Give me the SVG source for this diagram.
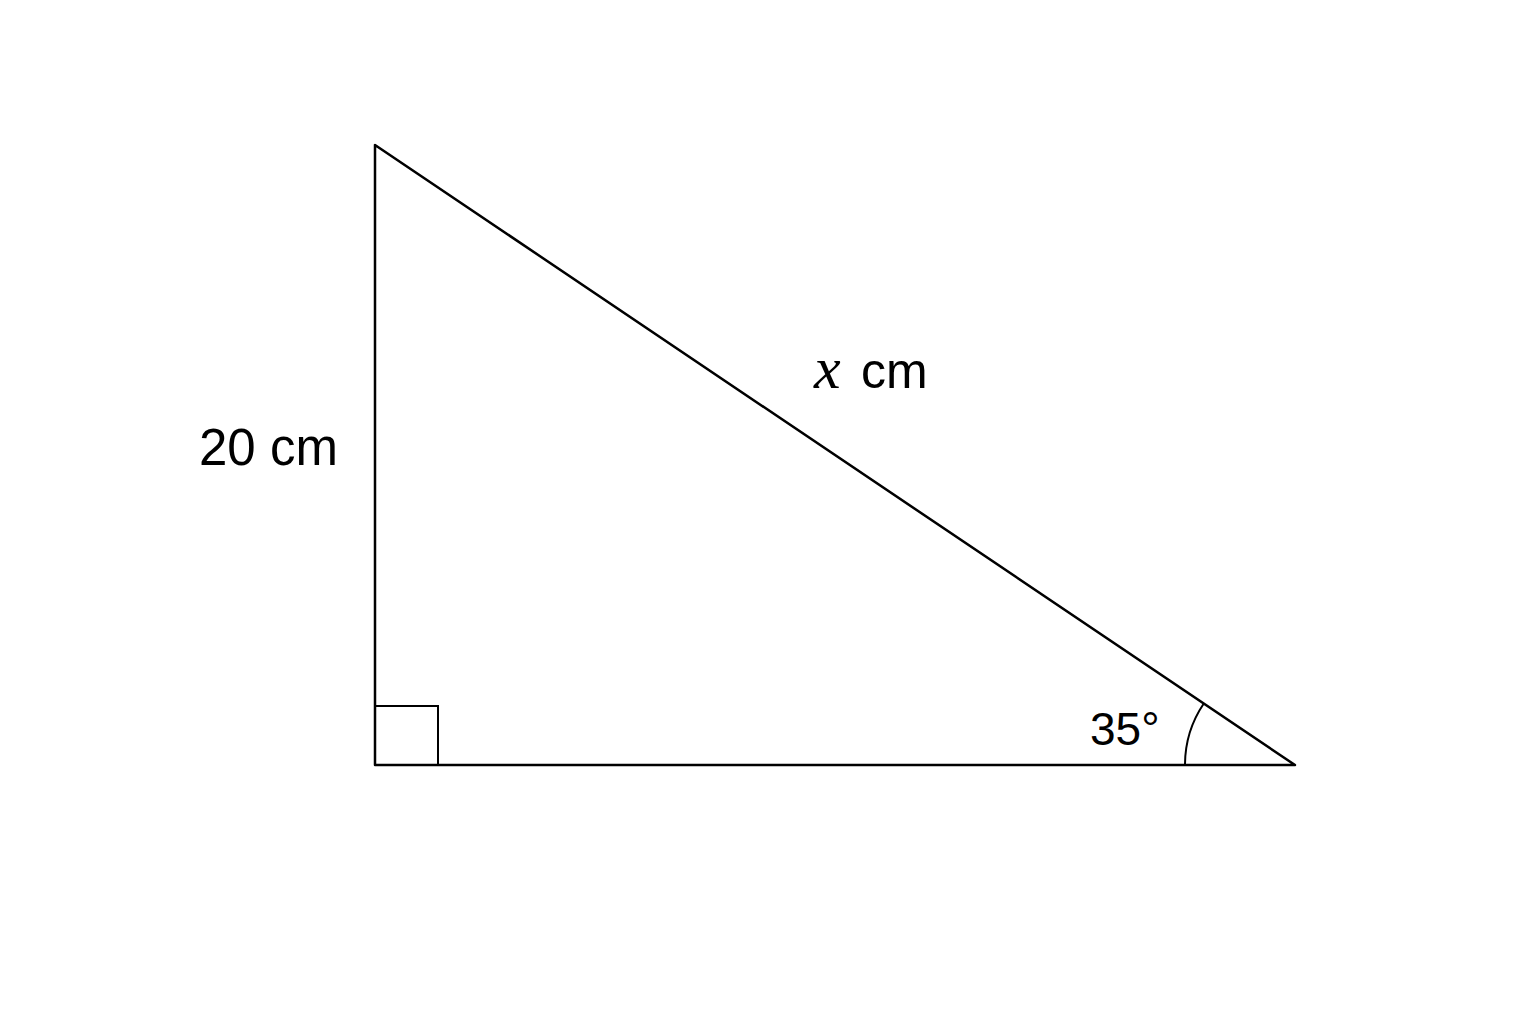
<svg xmlns="http://www.w3.org/2000/svg" width="1536" height="1024" viewBox="0 0 1536 1024">
<style>
.ln{fill:none;stroke:#000;stroke-width:2.5;stroke-linejoin:round;stroke-linecap:round}
.thin{fill:none;stroke:#000;stroke-width:2}
.lb{font-family:"Liberation Sans",Arial,sans-serif;fill:#000}
.mi{font-family:"Liberation Serif","DejaVu Serif",serif;font-style:italic;fill:#000}
</style>
<rect width="1536" height="1024" fill="#fff"/>
<g id="triangle">
<polygon class="ln" points="375,145 375,765 1295,765"/>
</g>
<g id="right-angle">
<polyline class="thin" points="375,706 438,706 438,765"/>
</g>
<g id="angle-arc">
<path class="thin" d="M1185,765 A110,110 0 0 1 1203.8,703.5"/>
</g>
<g id="labels">
<text class="lb" x="199" y="465" font-size="51">20 cm</text>
<text class="mi" x="814" y="388" font-size="60">x</text>
<text class="lb" x="861" y="388" font-size="50">cm</text>
<text class="lb" x="1090" y="745" font-size="46">35°</text>
</g>
</svg>
